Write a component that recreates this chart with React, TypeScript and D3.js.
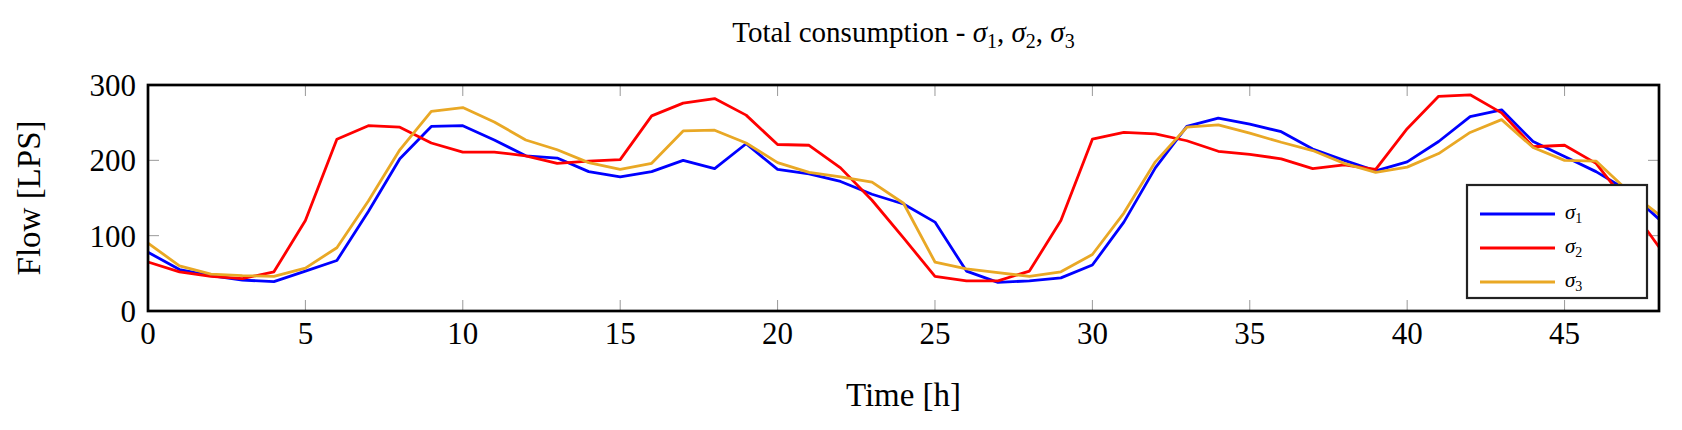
import React, { useEffect, useRef } from "react";
import * as d3 from "d3";

const hours = d3.range(0, 49);
const sigma1 = [78, 55, 47, 41, 39, 53, 67, 132, 202, 245, 246, 227, 206, 203, 185, 178, 185, 200, 189, 222, 188, 182, 172, 155, 142, 118, 53, 38, 40, 44, 61, 118, 190, 245, 256, 248, 238, 215, 200, 186, 198, 225, 258, 267, 225, 205, 185, 160, 122];
const sigma2 = [65, 52, 46, 43, 52, 120, 228, 246, 244, 223, 211, 211, 206, 196, 199, 201, 259, 276, 282, 260, 221, 220, 190, 147, 97, 46, 40, 40, 53, 120, 228, 237, 235, 226, 212, 208, 202, 189, 194, 188, 242, 285, 287, 263, 218, 220, 196, 143, 85];
const sigma3 = [90, 60, 49, 47, 46, 57, 84, 146, 214, 265, 270, 251, 227, 214, 197, 188, 196, 239, 240, 223, 197, 184, 178, 171, 143, 65, 56, 51, 46, 52, 75, 130, 198, 244, 247, 236, 224, 213, 196, 184, 191, 209, 237, 254, 217, 200, 199, 160, 128];
const seriesNames = ["σ1", "σ2", "σ3"];
const colors = ["#0000ff", "#ff0000", "#e9a825"];
const xTicks = [0, 5, 10, 15, 20, 25, 30, 35, 40, 45];
const yTicks = [0, 100, 200, 300];

const W = 1682, H = 430;
const m = { left: 148, right: 1659, top: 85, bottom: 311 };
const font = "'Liberation Serif', 'DejaVu Serif', serif";

export default function App() {
  const ref = useRef<SVGSVGElement>(null);
  useEffect(() => {
    const svg = d3.select(ref.current);
    svg.selectAll("*").remove();
    const x = d3.scaleLinear().domain([0, 48]).range([m.left, m.right]);
    const y = d3.scaleLinear().domain([0, 300]).range([m.bottom, m.top]);

    // inner ticks
    const g = svg.append("g").attr("stroke", "#999").attr("stroke-width", 1);
    xTicks.forEach((t) => {
      g.append("line").attr("x1", x(t)).attr("x2", x(t)).attr("y1", m.bottom).attr("y2", m.bottom - 11);
      g.append("line").attr("x1", x(t)).attr("x2", x(t)).attr("y1", m.top).attr("y2", m.top + 11);
    });
    yTicks.forEach((t) => {
      g.append("line").attr("x1", m.left).attr("x2", m.left + 11).attr("y1", y(t)).attr("y2", y(t));
      g.append("line").attr("x1", m.right).attr("x2", m.right - 11).attr("y1", y(t)).attr("y2", y(t));
    });

    const line = d3.line<number>().x((_, i) => x(hours[i])).y((d) => y(d));
    [sigma1, sigma2, sigma3].forEach((s, i) => {
      svg.append("path").datum(s).attr("fill", "none").attr("stroke", colors[i])
        .attr("stroke-width", 2.8).attr("stroke-linejoin", "round").attr("d", line);
    });

    svg.append("rect").attr("x", m.left).attr("y", m.top).attr("width", m.right - m.left)
      .attr("height", m.bottom - m.top).attr("fill", "none").attr("stroke", "#000").attr("stroke-width", 2.7);

    const txt = svg.append("g").attr("font-family", font).attr("fill", "#000");
    xTicks.forEach((t) => {
      txt.append("text").attr("x", x(t)).attr("y", m.bottom + 33).attr("text-anchor", "middle")
        .attr("font-size", 31).text(t);
    });
    yTicks.forEach((t) => {
      txt.append("text").attr("x", m.left - 12).attr("y", y(t) + 11).attr("text-anchor", "end")
        .attr("font-size", 31).text(t);
    });
    txt.append("text").attr("x", (m.left + m.right) / 2).attr("y", 406).attr("text-anchor", "middle")
      .attr("font-size", 33).text("Time [h]");
    txt.append("text").attr("transform", `translate(40,${(m.top + m.bottom) / 2}) rotate(-90)`)
      .attr("text-anchor", "middle").attr("font-size", 33).text("Flow [LPS]");
    const title = txt.append("text").attr("x", (m.left + m.right) / 2).attr("y", 42)
      .attr("text-anchor", "middle").attr("font-size", 29);
    title.append("tspan").text("Total consumption - ");
    seriesNames.forEach((n, i) => {
      title.append("tspan").attr("font-style", "italic").text("σ");
      title.append("tspan").attr("font-size", 20).attr("dy", 6).text(n.slice(1));
      title.append("tspan").attr("dy", -6).text(i < 2 ? ", " : "");
    });

    // legend
    const lg = svg.append("g").attr("transform", "translate(1467,185)");
    lg.append("rect").attr("width", 180).attr("height", 113).attr("fill", "#fff")
      .attr("stroke", "#222").attr("stroke-width", 2.2);
    seriesNames.forEach((n, i) => {
      const yy = 29 + i * 34;
      lg.append("line").attr("x1", 13).attr("x2", 88).attr("y1", yy).attr("y2", yy)
        .attr("stroke", colors[i]).attr("stroke-width", 2.8);
      const t = lg.append("text").attr("x", 98).attr("y", yy + 5).attr("font-family", font).attr("font-size", 21);
      t.append("tspan").attr("font-style", "italic").text("σ");
      t.append("tspan").attr("font-size", 14).attr("dy", 4).text(n.slice(1));
    });
  }, []);
  return <svg ref={ref} width={W} height={H} style={{ position: "absolute", left: 0, top: 0, background: "#fff" }} />;
}
